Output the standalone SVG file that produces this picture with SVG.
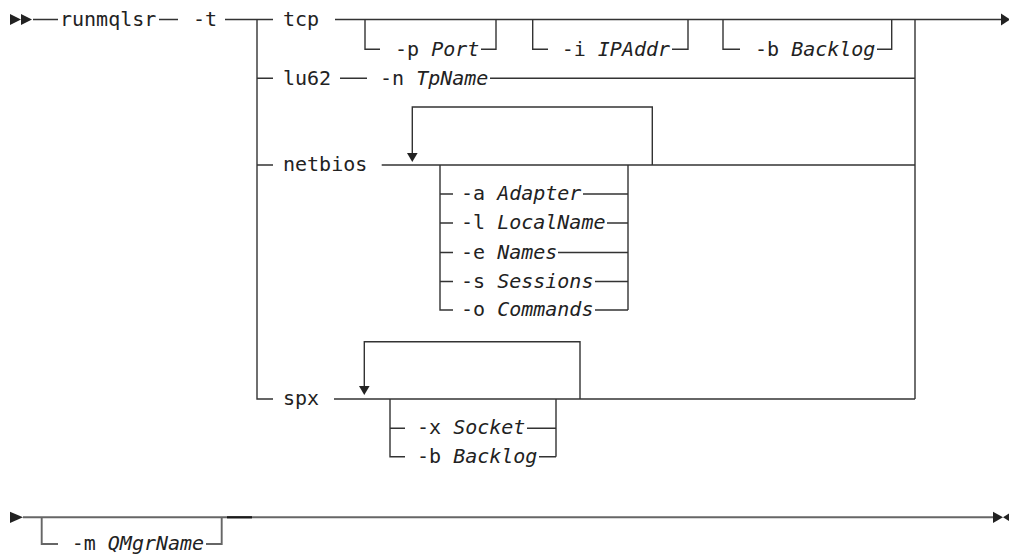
<svg xmlns="http://www.w3.org/2000/svg" width="1009" height="554" viewBox="0 0 1009 554">
<style>
.t{font-family:"DejaVu Sans Mono","Liberation Mono",monospace;font-size:20px;fill:#222}
.i{font-style:italic}
.l{fill:none;stroke:#333;stroke-width:1.4}
.lb{fill:none;stroke:#666;stroke-width:1.9}
.a{fill:#222}
</style>
<rect width="1009" height="554" fill="#fff"/>
<g id="connectors">
<path class="l" d="M33,19.5H58 M159,19.5H178 M225,19.5H273 M335,19.5H1002"/>
<path class="l" d="M257,19.5V399H273 M257,78.3H273 M257,165H273"/>
<path class="l" d="M915,19.5V399"/>
<path class="l" d="M365,19.5V49.3H380 M481,49.3H496V19.5"/>
<path class="l" d="M532.7,19.5V49.3H548 M672,49.3H688V19.5"/>
<path class="l" d="M723,19.5V49.3H740 M877,49.3H891.7V19.5"/>
<path class="l" d="M340,78.3H367 M490,78.3H915"/>
<path class="l" d="M381.7,165H915"/>
<path class="l" d="M652.3,165V107H412.3V154"/>
<path class="l" d="M440,165V310H453 M440,194H453 M440,223H453 M440,252.5H453 M440,281.5H453"/>
<path class="l" d="M628,165V310 M583,194H628 M607,223H628 M558,252.5H628 M595,281.5H628 M595,310H628"/>
<path class="l" d="M334,399H915"/>
<path class="l" d="M580,399V341.7H364.3V387"/>
<path class="l" d="M390,399V456.7H405 M390,428.3H405"/>
<path class="l" d="M556,399V456.7 M527,428.3H556 M539,456.7H556"/>
<path class="lb" d="M23,517.3H993"/>
<path class="lb" d="M41.7,517.3V544H58 M206,544H221.7V517.3"/>
<path d="M227,517.3H252" stroke="#1a1a1a" stroke-width="2.2"/>
</g>
<g id="arrows">
<polygon class="a" points="10,14 10,25 21,19.5"/>
<polygon class="a" points="21,14 21,25 32,19.5"/>
<polygon class="a" points="1001,13.5 1001,25.5 1010,19.5"/>
<polygon class="a" points="407,153 417.6,153 412.3,162"/>
<polygon class="a" points="359,386 369.6,386 364.3,395"/>
<polygon class="a" points="10,511.7 10,523 23,517.3"/>
<polygon class="a" points="993,511.7 993,523 1003,517.3"/>
<polygon class="a" points="1003,517.3 1010,513 1010,521.6"/>
</g>
<g id="n-runmqlsr"><text class="t" x="60" y="26">runmqlsr</text></g>
<g id="n-t"><text class="t" x="193" y="26">-t</text></g>
<g id="n-tcp"><text class="t" x="283" y="26">tcp</text></g>
<g id="n-port"><text class="t" x="395" y="55.5">-p <tspan class="i">Port</tspan></text></g>
<g id="n-ipaddr"><text class="t" x="561.7" y="55.5">-i <tspan class="i">IPAddr</tspan></text></g>
<g id="n-backlog1"><text class="t" x="755" y="55.5">-b <tspan class="i">Backlog</tspan></text></g>
<g id="n-lu62"><text class="t" x="283" y="84.5">lu62</text></g>
<g id="n-tpname"><text class="t" x="380" y="84.5">-n <tspan class="i">TpName</tspan></text></g>
<g id="n-netbios"><text class="t" x="283" y="171">netbios</text></g>
<g id="n-adapter"><text class="t" x="461" y="200">-a <tspan class="i">Adapter</tspan></text></g>
<g id="n-localname"><text class="t" x="461" y="229">-l <tspan class="i">LocalName</tspan></text></g>
<g id="n-names"><text class="t" x="461" y="258.5">-e <tspan class="i">Names</tspan></text></g>
<g id="n-sessions"><text class="t" x="461" y="287.5">-s <tspan class="i">Sessions</tspan></text></g>
<g id="n-commands"><text class="t" x="461" y="316">-o <tspan class="i">Commands</tspan></text></g>
<g id="n-spx"><text class="t" x="283" y="405">spx</text></g>
<g id="n-socket"><text class="t" x="417" y="434.3">-x <tspan class="i">Socket</tspan></text></g>
<g id="n-backlog2"><text class="t" x="417" y="462.7">-b <tspan class="i">Backlog</tspan></text></g>
<g id="n-qmgrname"><text class="t" x="71.7" y="549.5">-m <tspan class="i">QMgrName</tspan></text></g>
</svg>
